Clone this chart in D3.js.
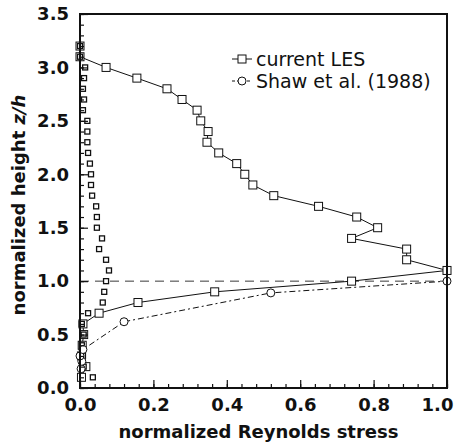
<!DOCTYPE html>
<html>
<head>
<meta charset="utf-8">
<script src="https://cdn.jsdelivr.net/npm/d3@7"></script>
<style>
  body { margin: 0; background: #fff; }
  svg { display: block; }
  svg text { font-family: "DejaVu Sans", sans-serif; fill: #111; }
</style>
</head>
<body>
<svg id="chart" width="454" height="445"></svg>
<script>
// current LES (squares joined by a solid line)
const lesStress = [0.0, 0.0, 0.071, 0.155, 0.237, 0.278, 0.319, 0.329, 0.349, 0.346, 0.378, 0.427, 0.449, 0.471, 0.528, 0.650, 0.754, 0.811, 0.740, 0.890, 0.890, 1.0, 0.740, 0.367, 0.158, 0.052, 0.008, 0.010, 0.006, 0.004, 0.016, 0.004];
const lesHeight = [3.2, 3.1, 3.0, 2.9, 2.8, 2.7, 2.6, 2.5, 2.4, 2.3, 2.2, 2.1, 2.0, 1.9, 1.8, 1.7, 1.6, 1.5, 1.4, 1.3, 1.2, 1.1, 1.0, 0.9, 0.8, 0.7, 0.6, 0.5, 0.4, 0.3, 0.2, 0.1];

// second LES profile (small squares, no line)
const smallStress = [0.0, 0.0, 0.014, 0.011, 0.008, 0.011, 0.008, 0.020, 0.020, 0.020, 0.022, 0.027, 0.030, 0.030, 0.033, 0.044, 0.046, 0.046, 0.060, 0.052, 0.071, 0.079, 0.071, 0.066, 0.062, 0.022, 0.005, 0.010, 0.005, 0.008, 0.010, 0.035];
const smallHeight = [3.2, 3.1, 3.0, 2.9, 2.8, 2.7, 2.6, 2.5, 2.4, 2.3, 2.2, 2.1, 2.0, 1.9, 1.8, 1.7, 1.6, 1.5, 1.4, 1.3, 1.2, 1.1, 1.0, 0.9, 0.8, 0.7, 0.6, 0.5, 0.4, 0.3, 0.2, 0.1];

// Shaw et al. (1988) (circles, dash-dot line)
const shawStress = [0.003, 0.005, 0.0, 0.008, 0.12, 0.52, 1.0];
const shawHeight = [0.18, 0.25, 0.30, 0.36, 0.62, 0.89, 1.0];

const xTicks = [0.0, 0.2, 0.4, 0.6, 0.8, 1.0];
const yTicks = [0.0, 0.5, 1.0, 1.5, 2.0, 2.5, 3.0, 3.5];

const margin = { top: 14, right: 7, bottom: 57, left: 80 };
const width = 454, height = 445;
const innerW = width - margin.left - margin.right;
const innerH = height - margin.top - margin.bottom;

const svg = d3.select("#chart");
const g = svg.append("g").attr("transform", `translate(${margin.left},${margin.top})`);

const x = d3.scaleLinear().domain([0, 1.0]).range([0, innerW]);
const y = d3.scaleLinear().domain([0, 3.5]).range([innerH, 0]);

// reference line at z/h = 1
g.append("line")
    .attr("x1", x(0)).attr("x2", x(1.0))
    .attr("y1", y(1.0)).attr("y2", y(1.0))
    .attr("stroke", "#222").attr("stroke-width", 0.9)
    .attr("stroke-dasharray", "9,6");

const line = d3.line().x(d => x(d[0])).y(d => y(d[1]));

const les = lesStress.map((v, i) => [v, lesHeight[i]]);
const small = smallStress.map((v, i) => [v, smallHeight[i]]);
const shaw = shawStress.map((v, i) => [v, shawHeight[i]]);

g.append("path").datum(les).attr("d", line)
    .attr("fill", "none").attr("stroke", "#111").attr("stroke-width", 1);
g.append("path").datum(shaw).attr("d", line)
    .attr("fill", "none").attr("stroke", "#111").attr("stroke-width", 1)
    .attr("stroke-dasharray", "6,3,2,3");

g.selectAll(".sq").data(les).enter().append("rect")
    .attr("x", d => x(d[0]) - 4).attr("y", d => y(d[1]) - 4)
    .attr("width", 8).attr("height", 8)
    .attr("fill", "#fff").attr("stroke", "#111").attr("stroke-width", 1);

g.selectAll(".ssq").data(small).enter().append("rect")
    .attr("x", d => x(d[0]) - 2.5).attr("y", d => y(d[1]) - 2.5)
    .attr("width", 5).attr("height", 5)
    .attr("fill", "#fff").attr("stroke", "#111").attr("stroke-width", 1.3);

g.selectAll(".circ").data(shaw).enter().append("circle")
    .attr("cx", d => x(d[0])).attr("cy", d => y(d[1])).attr("r", 4)
    .attr("fill", "#fff").attr("stroke", "#111").attr("stroke-width", 1);

// inward ticks
const xAxis = d3.axisBottom(x).tickValues(xTicks).tickSize(-8).tickFormat(d3.format(".1f")).tickPadding(10);
const yAxis = d3.axisLeft(y).tickValues(yTicks).tickSize(-8).tickFormat(d3.format(".1f")).tickPadding(11);
const xMinor = d3.axisBottom(x).tickValues(d3.range(0, 1.001, 0.04)).tickSize(-4).tickFormat("");
const yMinor = d3.axisLeft(y).tickValues(d3.range(0, 3.501, 0.1)).tickSize(-4).tickFormat("");

function styleAxis(sel) {
    sel.attr("font-family", null);
    sel.select(".domain").remove();
    sel.selectAll("line").attr("stroke", "#111").attr("stroke-width", 1.2);
    sel.selectAll("text").attr("font-size", 18).attr("font-weight", "bold").attr("fill", "#111");
}
g.append("g").attr("transform", `translate(0,${innerH})`).call(xMinor).call(styleAxis);
g.append("g").call(yMinor).call(styleAxis);
g.append("g").attr("transform", `translate(0,${innerH})`).call(xAxis).call(styleAxis)
    .selectAll("text").attr("dx", d => d === 1.0 ? -10 : 0);
g.append("g").call(yAxis).call(styleAxis);

// frame
g.append("rect").attr("width", innerW).attr("height", innerH)
    .attr("fill", "none").attr("stroke", "#111").attr("stroke-width", 2);

// axis titles
svg.append("text")
    .attr("x", margin.left + innerW / 2 - 5).attr("y", 438)
    .attr("text-anchor", "middle").attr("font-size", 18).attr("font-weight", "bold")
    .text("normalized Reynolds stress");

const yt = svg.append("text")
    .attr("transform", `translate(25,205) rotate(-90)`)
    .attr("text-anchor", "middle").attr("font-size", 18).attr("font-weight", "bold");
yt.append("tspan").text("normalized height ");
yt.append("tspan").attr("font-style", "italic").text("z/h");

// legend
const legend = svg.append("g").attr("transform", "translate(232,59)");
const legendItems = [
    { label: "current LES", shape: "square" },
    { label: "Shaw et al. (1988)", shape: "circle" }
];
const li = legend.selectAll(".li").data(legendItems).enter().append("g")
    .attr("transform", (d, i) => `translate(0,${i * 22})`);
li.append("line").attr("x1", 0).attr("x2", 20).attr("y1", 0).attr("y2", 0)
    .attr("stroke", "#111").attr("stroke-width", 1)
    .attr("stroke-dasharray", d => d.shape === "circle" ? "3,2" : null);
li.filter(d => d.shape === "square").append("rect")
    .attr("x", 6).attr("y", -4).attr("width", 8).attr("height", 8)
    .attr("fill", "#fff").attr("stroke", "#111");
li.filter(d => d.shape === "circle").append("circle")
    .attr("cx", 10).attr("cy", 0).attr("r", 4)
    .attr("fill", "#fff").attr("stroke", "#111");
li.append("text").attr("x", 24).attr("y", 6.5)
    .attr("font-size", 19).text(d => d.label);
</script>
</body>
</html>
